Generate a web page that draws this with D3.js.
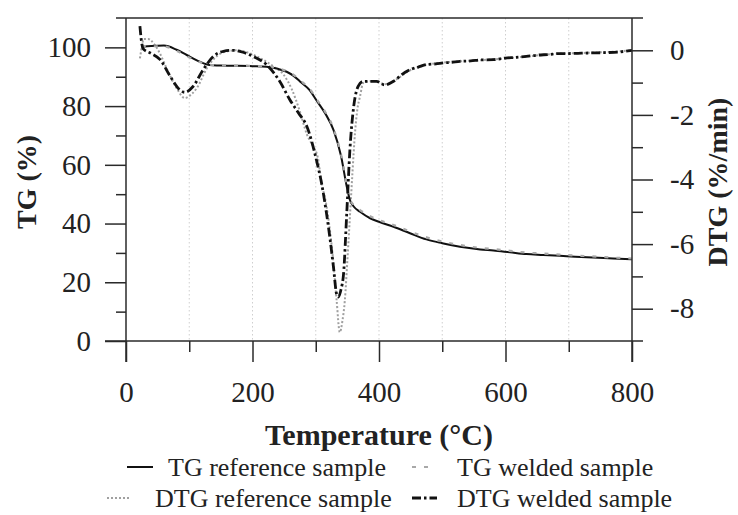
<!DOCTYPE html>
<html><head><meta charset="utf-8">
<script src="https://cdn.jsdelivr.net/npm/d3@7"></script>
<style>
html,body{margin:0;padding:0;background:#fff;}
text{font-family:"Liberation Serif","Times New Roman",serif;fill:#222;}
</style></head>
<body><svg id="c" width="738" height="515"></svg>
<script>
// ---- data ----
const tgRefT = [25,40,60,80,96,112,128,150,200,222,240,254,265,275,290,301,315,328,340,349,354,360,370,386,400,423,449,475,500,528,560,581,607,633,660,686,710,738,770,800];
const tgRef  = [100.2,100.5,100.6,99.2,97.4,95.6,94.2,93.8,93.6,93.4,92.7,91.7,90.3,88.4,85.5,82,77.5,71.9,63,52.6,48,45.8,44,41.8,40.6,38.9,36.7,34.6,33.3,32.1,31.2,30.8,30.2,29.6,29.3,29.0,28.7,28.4,28.1,27.8];
const tgWeld = [100.5,100.4,100.3,98.8,97.0,95.4,94.2,93.9,93.7,93.5,92.9,91.9,90.6,88.8,86.0,82.5,78.0,72.4,63.5,53,48.4,46.3,44.6,42.5,41.2,39.5,37.3,35.3,33.9,32.7,31.7,31.3,30.7,30.1,29.8,29.4,29.1,28.8,28.4,28.1];

const dtgRefT = [22,25,28,35,46,55,64,80,93,104,112,128,143,159,175,191,212,233,249,262,275,286,296,303,310,315,323,328,333,338,342,346,350,354,358,362,366,370,375,386,395,409,423,449,475,502,528,555,581,607,633,660,686,712,738,765,800];
const dtgRef  = [-0.25,0.1,0.35,0.35,0.15,-0.15,-0.55,-1.17,-1.48,-1.35,-1.17,-0.55,-0.19,-0.03,0,-0.06,-0.24,-0.5,-0.75,-1.2,-1.9,-2.6,-2.98,-3.3,-4.2,-4.6,-5.67,-6.6,-7.74,-8.73,-8.4,-7.74,-6.5,-5.16,-3.8,-2.57,-1.8,-1.43,-1.01,-0.96,-0.95,-1.05,-0.95,-0.62,-0.45,-0.38,-0.34,-0.31,-0.28,-0.24,-0.19,-0.14,-0.1,-0.09,-0.07,-0.05,0];

const dtgWeldT = [22,24,27,40,54,70,85,93,106,122,138,154,170,185,201,222,243,259,273,286,301,310,317,323,328,333,336,340,344,349,354,360,367,375,386,396,409,423,436,449,462,475,490,502,515,528,545,560,581,600,615,633,650,668,686,700,720,738,760,780,800];
const dtgWeld  = [0.75,0.35,0.05,-0.1,-0.29,-0.81,-1.22,-1.3,-1.12,-0.6,-0.19,-0.03,0,-0.06,-0.19,-0.44,-0.96,-1.53,-1.95,-2.36,-3.39,-4.2,-5.05,-5.9,-6.71,-7.55,-7.64,-7.4,-6.91,-5.05,-3.08,-1.74,-1.12,-0.96,-0.96,-0.96,-1.07,-0.96,-0.75,-0.6,-0.52,-0.44,-0.42,-0.39,-0.37,-0.34,-0.33,-0.3,-0.29,-0.24,-0.22,-0.19,-0.15,-0.13,-0.1,-0.1,-0.09,-0.08,-0.07,-0.05,0];

const xTicks = [0,200,400,600,800];
const xMinor = [100,300,500,700];
const gridT  = [100,200,300,400,500,600,700];
const tgTicks = [0,20,40,60,80,100];
const tgMinor = [10,30,50,70,90];
const dtgTicks = [0,-2,-4,-6,-8];
const dtgMinor = [-1,-3,-5,-7];

const legendItems = [
  {label:"TG reference sample", key:"tgRef"},
  {label:"TG welded sample", key:"tgWeld"},
  {label:"DTG reference sample", key:"dtgRef"},
  {label:"DTG welded sample", key:"dtgWeld"}
];

// ---- layout ----
const L = 126, R = 632, T = 18, B = 341;
const svg = d3.select("#c");
const x = d3.scaleLinear().domain([0,800]).range([L,R]);
const yL = d3.scaleLinear().domain([0,110]).range([B,T]);
const yR = d3.scaleLinear().domain([-9,1]).range([B,T]);

const styles = {
  tgRef:  {stroke:"#111", width:2, dash:null},
  tgWeld: {stroke:"#a8a8a8", width:2.2, dash:"4,8"},
  dtgRef: {stroke:"#a0a0a0", width:2, dash:"2,2"},
  dtgWeld:{stroke:"#111", width:2.8, dash:"9,3,2.5,3"}
};

// grid
svg.append("g").selectAll("line").data(gridT).join("line")
  .attr("x1",d=>x(d)).attr("x2",d=>x(d)).attr("y1",T).attr("y2",B)
  .attr("stroke","#cfcfcf").attr("stroke-width",1).attr("stroke-dasharray","1.5,2.5");

// curves
const line = (xs, ys, yScale) => d3.line().curve(d3.curveMonotoneX)
  .x((d,i)=>x(xs[i])).y(d=>yScale(d))(ys);

function drawCurve(xs, ys, yScale, st){
  svg.append("path").attr("d", line(xs,ys,yScale)).attr("fill","none")
    .attr("stroke",st.stroke).attr("stroke-width",st.width)
    .attr("stroke-dasharray",st.dash).attr("stroke-linejoin","round");
}
drawCurve(dtgRefT, dtgRef, yR, styles.dtgRef);
drawCurve(tgRefT, tgRef, yL, styles.tgRef);
drawCurve(tgRefT, tgWeld, yL, styles.tgWeld);
drawCurve(dtgWeldT, dtgWeld, yR, styles.dtgWeld);

// frame lines
const ax = "#2a2a2a";
svg.append("line").attr("x1",116).attr("x2",643).attr("y1",T).attr("y2",T).attr("stroke",ax).attr("stroke-width",1.5);
svg.append("line").attr("x1",105).attr("x2",643).attr("y1",B).attr("y2",B).attr("stroke",ax).attr("stroke-width",1.5);
svg.append("line").attr("x1",L).attr("x2",L).attr("y1",T).attr("y2",362).attr("stroke",ax).attr("stroke-width",1.5);
svg.append("line").attr("x1",R).attr("x2",R).attr("y1",T).attr("y2",362).attr("stroke",ax).attr("stroke-width",1.5);

// x axis
const gx = svg.append("g").attr("transform",`translate(0,${B})`)
  .call(d3.axisBottom(x).tickValues(xTicks).tickSize(21).tickPadding(19).tickFormat(d3.format("d")));
gx.select(".domain").remove();
gx.selectAll("line").attr("stroke",ax).attr("stroke-width",1.5);
gx.selectAll("text").attr("font-size",29).attr("fill","#222").style("font-family","Liberation Serif");
const gxm = svg.append("g").attr("transform",`translate(0,${B})`)
  .call(d3.axisBottom(x).tickValues(xMinor).tickSize(11).tickFormat(""));
gxm.select(".domain").remove();
gxm.selectAll("line").attr("stroke",ax).attr("stroke-width",1.5);

// left axis
const gl = svg.append("g").attr("transform",`translate(${L},0)`)
  .call(d3.axisLeft(yL).tickValues(tgTicks).tickSize(21).tickPadding(14));
gl.select(".domain").remove();
gl.selectAll("line").attr("stroke",ax).attr("stroke-width",1.5);
gl.selectAll("text").attr("font-size",29).attr("fill","#222").style("font-family","Liberation Serif");
const glm = svg.append("g").attr("transform",`translate(${L},0)`)
  .call(d3.axisLeft(yL).tickValues(tgMinor).tickSize(10).tickFormat(""));
glm.select(".domain").remove();
glm.selectAll("line").attr("stroke",ax).attr("stroke-width",1.5);

// right axis
const gr = svg.append("g").attr("transform",`translate(${R},0)`)
  .call(d3.axisRight(yR).tickValues(dtgTicks).tickSize(21).tickPadding(17).tickFormat(d=>d<0?"-"+Math.abs(d):d));
gr.select(".domain").remove();
gr.selectAll("line").attr("stroke",ax).attr("stroke-width",1.5);
gr.selectAll("text").attr("font-size",29).attr("fill","#222").style("font-family","Liberation Serif");
const grm = svg.append("g").attr("transform",`translate(${R},0)`)
  .call(d3.axisRight(yR).tickValues(dtgMinor).tickSize(11).tickFormat(""));
grm.select(".domain").remove();
grm.selectAll("line").attr("stroke",ax).attr("stroke-width",1.5);

// titles
svg.append("text").attr("x",(L+R)/2).attr("y",445).attr("text-anchor","middle")
  .attr("font-size",30).attr("font-weight","bold").text("Temperature (°C)");
svg.append("text").attr("transform","translate(36,182) rotate(-90)").attr("text-anchor","middle")
  .attr("font-size",28).attr("font-weight","bold").text("TG (%)");
svg.append("text").attr("transform","translate(727,182) rotate(-90)").attr("text-anchor","middle")
  .attr("font-size",28).attr("font-weight","bold").text("DTG (%/min)");

// legend
const legPos = [
  {lx1:127, lx2:153, tx:168, y:476},
  {lx1:412, lx2:436, tx:457, y:476},
  {lx1:107, lx2:131, tx:155, y:507},
  {lx1:412, lx2:437, tx:457, y:507}
];
legendItems.forEach((it,i)=>{
  const p = legPos[i], st = styles[it.key];
  svg.append("line").attr("x1",p.lx1).attr("x2",p.lx2).attr("y1",p.y-9).attr("y2",p.y-9)
    .attr("stroke",st.stroke).attr("stroke-width",st.width).attr("stroke-dasharray",st.dash);
  svg.append("text").attr("x",p.tx).attr("y",p.y).attr("font-size",26).text(it.label);
});
</script></body></html>
